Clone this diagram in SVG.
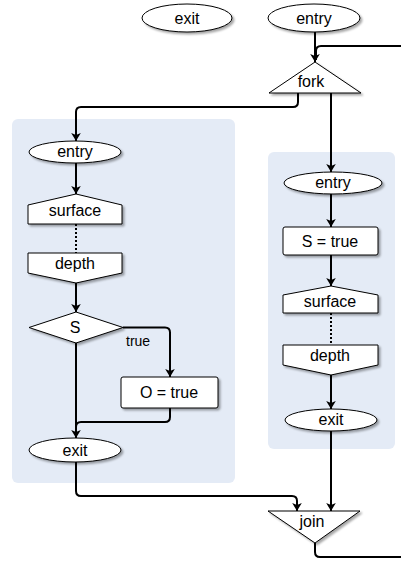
<svg xmlns="http://www.w3.org/2000/svg" width="401" height="561" viewBox="0 0 401 561">
<style>
.cl{fill:#e4ebf6;stroke:none}
.sh{fill:#fff;stroke:#000;stroke-width:1;filter:url(#ds)}
.t{font-family:"Liberation Sans",Arial,sans-serif;font-size:16px;fill:#000;text-anchor:middle}
.lbl{font-family:"Liberation Sans",Arial,sans-serif;font-size:14px;fill:#000}
.c{fill:none;stroke:#000;stroke-width:2}
.a{marker-end:url(#ah)}
.d{stroke-dasharray:2,2}
</style>
<defs>
<filter id="ds" x="-20%" y="-30%" width="150%" height="170%">
<feDropShadow dx="2" dy="2" stdDeviation="1.2" flood-color="#000" flood-opacity="0.35"/>
</filter>
<marker id="ah" viewBox="0 0 10 12" refX="10" refY="6" markerWidth="8" markerHeight="11" markerUnits="userSpaceOnUse" orient="auto">
<path d="M0,0 L10,6 L0,12 L2.5,6 z" fill="#000"/>
</marker>
</defs>
<g id="clusters">
<rect id="cluster-left" class="cl" x="12" y="119" width="223" height="364" rx="6"/>
<rect id="cluster-right" class="cl" x="268" y="152" width="127" height="297" rx="6"/>
</g>
<g id="connectors">
<path class="c a" d="M315,32 V62"/>
<path class="c" d="M401,46 H321 Q316,46 316,51 V60"/>
<path class="c a" d="M298,93 V102 Q298,107 293,107 H81 Q76,107 76,112 V141"/>
<path class="c a" d="M331,93 V172"/>
<path class="c a" d="M76,163 V194"/>
<path class="c d" d="M76,224 V253"/>
<path class="c a" d="M76,283 V312"/>
<path class="c a" d="M123,327.5 H165 Q170,327.5 170,332.5 V377"/>
<path class="c a" d="M76,343 V438"/>
<path class="c" d="M170,408 V417 Q170,422 165,422 H81 Q76,422 76,427 V436"/>
<path class="c a" d="M76,462 V491 Q76,496 81,496 H292 Q297,496 297,501 V511"/>
<path class="c a" d="M331,194 V227"/>
<path class="c a" d="M331,255 V286"/>
<path class="c d" d="M331,313 V345"/>
<path class="c a" d="M331,375 V409"/>
<path class="c a" d="M331,431 V511"/>
<path class="c" d="M315,543 V552 Q315,557 320,557 H401"/>
</g>
<text class="lbl" x="126" y="346">true</text>
<g id="top-exit"><ellipse class="sh" cx="187" cy="18" rx="45" ry="14"/><text class="t" x="187" y="24">exit</text></g>
<g id="top-entry"><ellipse class="sh" cx="314" cy="18" rx="46" ry="14"/><text class="t" x="314" y="24">entry</text></g>
<g id="fork"><polygon class="sh" points="315,62 361,93 269,93"/><text class="t" x="311" y="87">fork</text></g>
<g id="l-entry"><ellipse class="sh" cx="75" cy="152" rx="46" ry="11"/><text class="t" x="75" y="157">entry</text></g>
<g id="l-surface"><polygon class="sh" points="28,205 76,194 122,205 122,224 28,224"/><text class="t" x="75" y="216">surface</text></g>
<g id="l-depth"><polygon class="sh" points="28,253 122,253 122,273 76,283 28,273"/><text class="t" x="75" y="269">depth</text></g>
<g id="l-S"><polygon class="sh" points="29,327.5 76,312 123,327.5 76,343"/><text class="t" x="75" y="333">S</text></g>
<g id="l-O"><rect class="sh" x="121" y="377" width="97" height="31" rx="2"/><text class="t" x="169" y="398">O = true</text></g>
<g id="l-exit"><ellipse class="sh" cx="75" cy="450" rx="46" ry="12"/><text class="t" x="75" y="456">exit</text></g>
<g id="r-entry"><ellipse class="sh" cx="333" cy="183" rx="49" ry="11"/><text class="t" x="333" y="188">entry</text></g>
<g id="r-S"><rect class="sh" x="283" y="227" width="95" height="28" rx="2"/><text class="t" x="330" y="247">S = true</text></g>
<g id="r-surface"><polygon class="sh" points="283,295 331,286 378,295 378,313 283,313"/><text class="t" x="330" y="307">surface</text></g>
<g id="r-depth"><polygon class="sh" points="283,345 378,345 378,365 331,375 283,365"/><text class="t" x="330" y="361">depth</text></g>
<g id="r-exit"><ellipse class="sh" cx="331" cy="420" rx="46" ry="11"/><text class="t" x="331" y="425">exit</text></g>
<g id="join"><polygon class="sh" points="268,511 360,511 315,543"/><text class="t" x="312" y="527">join</text></g>
</svg>
